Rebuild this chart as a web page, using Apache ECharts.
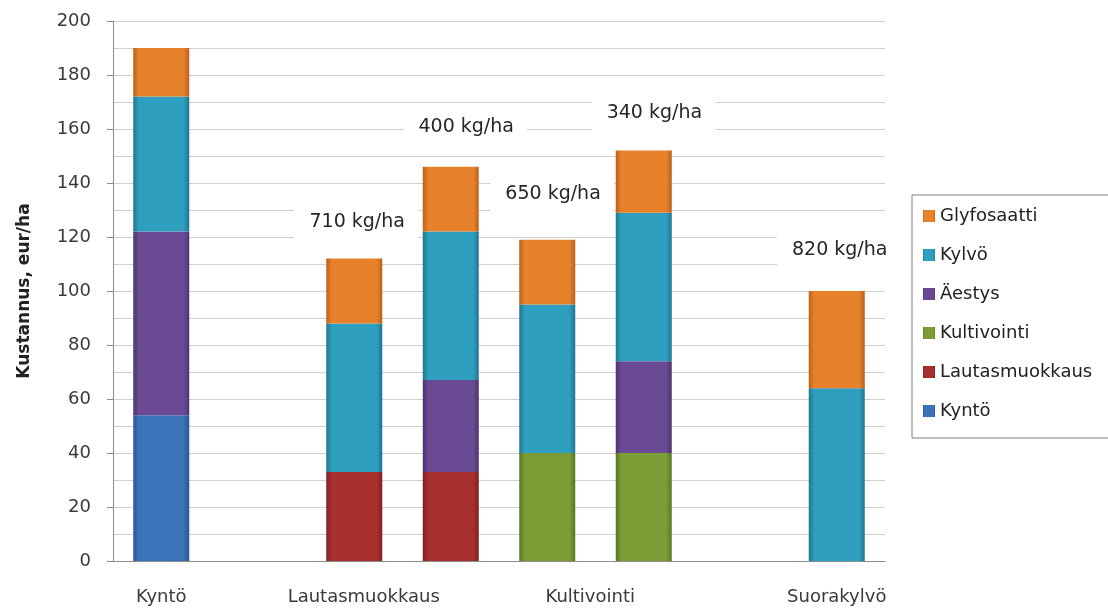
<!DOCTYPE html>
<html>
<head>
<meta charset="utf-8">
<script src="https://cdn.jsdelivr.net/npm/echarts@6/dist/echarts.min.js"></script>
<style>
  html, body { margin: 0; padding: 0; background: #fff; }
  #chart { width: 1108px; height: 610px; }
</style>
</head>
<body>
<div id="chart"></div>
<script>
// Slots along the x axis (two of them stay empty as spacers)
const slots = ['Kyntö', 'väli1', 'Lautasmuokkaus A', 'Lautasmuokkaus B',
               'Kultivointi A', 'Kultivointi B', 'väli2', 'Suorakylvö'];
const slotLabels = ['Kyntö', '', 'Lautasmuokkaus', '', 'Kultivointi', '', '', 'Suorakylvö'];

// Cost components, eur/ha, per slot
const kynto          = [54, null, null, null, null, null, null, null];
const lautasmuokkaus = [null, null, 33, 33, null, null, null, null];
const kultivointi    = [null, null, null, null, 40, 40, null, null];
const aestys         = [68, null, null, 34, null, 34, null, null];
const kylvo          = [50, null, 55, 55, 55, 55, null, 64];
const glyfosaatti    = [18, null, 24, 24, 24, 23, null, 36];

// Seed rate notes: [x position on the 0..8 slot scale, y in eur/ha, text]
const notes = [
  [2.52, 125.5, '710 kg/ha'],
  [3.65, 160.7, '400 kg/ha'],
  [4.55, 136.0, '650 kg/ha'],
  [5.60, 166.0, '340 kg/ha'],
  [7.52, 115.2, '820 kg/ha']
];

const yTicks = { min: 0, max: 200, step: 20 };

const FONT = 'DejaVu Sans';

function bevel(edge, mid) {
  return {
    type: 'linear', x: 0, y: 0, x2: 1, y2: 0,
    colorStops: [
      { offset: 0, color: edge },
      { offset: 0.1, color: mid },
      { offset: 0.9, color: mid },
      { offset: 1, color: edge }
    ]
  };
}

const seriesDefs = [
  { name: 'Kyntö', data: kynto, color: bevel('#2a578f', '#3b72b8') },
  { name: 'Lautasmuokkaus', data: lautasmuokkaus, color: bevel('#7e2120', '#a8302e') },
  { name: 'Kultivointi', data: kultivointi, color: bevel('#5a7626', '#7a9d35') },
  { name: 'Äestys', data: aestys, color: bevel('#4c3470', '#6b4a94') },
  { name: 'Kylvö', data: kylvo, color: bevel('#1f7590', '#2f9fbf') },
  { name: 'Glyfosaatti', data: glyfosaatti, color: bevel('#b8621c', '#e8822a') }
];

const chart = echarts.init(document.getElementById('chart'), null, { renderer: 'canvas' });

const barSeries = seriesDefs.map(s => ({
  name: s.name,
  type: 'bar',
  stack: 'kustannus',
  barWidth: 56,
  data: s.data,
  itemStyle: { color: s.color },
  z: 3
}));

const option = {
  backgroundColor: '#ffffff',
  animation: false,
  grid: { left: 113, right: 223, top: 21, bottom: 49, containLabel: false },
  xAxis: [
    {
      type: 'category',
      data: slots,
      axisLine: { show: true, lineStyle: { color: '#8c8c8c', width: 1 } },
      axisTick: { show: false },
      splitLine: { show: false },
      axisLabel: {
        interval: 0,
        margin: 27,
        color: '#3a3a3a',
        fontFamily: FONT,
        fontSize: 18,
        formatter: (v, i) => {
          const t = slotLabels[i];
          if (!t) return '';
          if (i === 2) return '{a|' + t + '}';
          if (i === 4) return '{b|' + t + '}';
          return t;
        },
        rich: {
          a: { fontFamily: FONT, fontSize: 18, color: '#3a3a3a', padding: [0, 0, 0, 19] },
          b: { fontFamily: FONT, fontSize: 18, color: '#3a3a3a', padding: [0, 0, 0, 86] }
        }
      }
    },
    {
      type: 'value',
      min: 0,
      max: 8,
      show: false
    }
  ],
  yAxis: {
    type: 'value',
    min: yTicks.min,
    max: yTicks.max,
    interval: yTicks.step,
    name: 'Kustannus, eur/ha',
    nameLocation: 'middle',
    nameGap: 80,
    nameRotate: 90,
    nameTextStyle: { fontFamily: FONT, fontSize: 17, fontWeight: 'bold', color: '#222' },
    axisLine: { show: true, lineStyle: { color: '#8c8c8c', width: 1 } },
    axisTick: { show: true, length: 6, inside: false, lineStyle: { color: '#8c8c8c' } },
    axisLabel: { margin: 22, color: '#3a3a3a', fontFamily: FONT, fontSize: 18 },
    splitLine: { show: true, lineStyle: { color: '#d0d0d0', width: 1 } },
    minorTick: { show: false, splitNumber: 2 },
    minorSplitLine: { show: true, lineStyle: { color: '#d0d0d0', width: 1 } }
  },
  legend: {
    orient: 'vertical',
    left: 912,
    top: 195,
    data: ['Glyfosaatti', 'Kylvö', 'Äestys', 'Kultivointi', 'Lautasmuokkaus', 'Kyntö'],
    icon: 'rect',
    itemWidth: 12,
    itemHeight: 12,
    itemGap: 19,
    padding: [11, 20, 17, 11],
    borderColor: '#7f7f7f',
    borderWidth: 1,
    backgroundColor: '#ffffff',
    textStyle: { fontFamily: FONT, fontSize: 18, color: '#222', lineHeight: 20 }
  },
  series: [
    ...barSeries,
    {
      name: 'siemenmäärä',
      type: 'scatter',
      xAxisIndex: 1,
      symbolSize: 1,
      itemStyle: { color: '#ffffff', opacity: 1 },
      z: 5,
      data: notes.map(n => ({ value: [n[0], n[1]], label: { formatter: n[2] } })),
      label: {
        show: true,
        position: 'inside',
        fontFamily: FONT,
        fontSize: 19,
        color: '#262626',
        opacity: 1,
        textBorderWidth: 0,
        backgroundColor: '#ffffff',
        padding: [9, 13, 9, 15]
      }
    }
  ]
};

chart.setOption(option);
</script>
</body>
</html>
